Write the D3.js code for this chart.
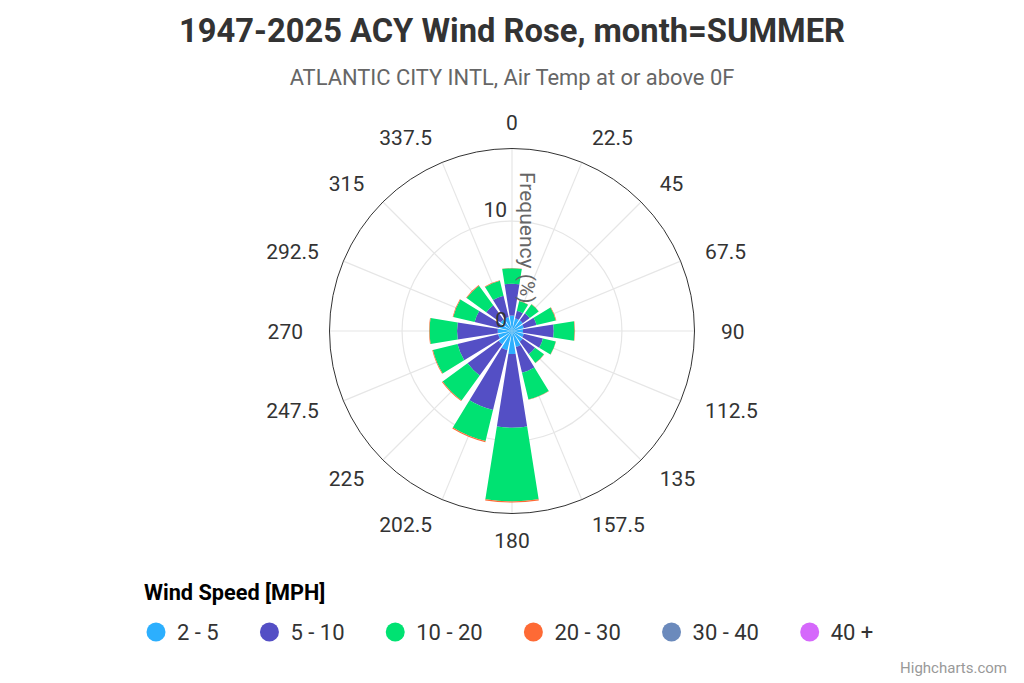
<!DOCTYPE html>
<html>
<head>
<meta charset="utf-8">
<script src="https://cdn.jsdelivr.net/npm/d3@7"></script>
<style>
body { margin: 0; background: #fff; }
svg text { font-family: Roboto, "Noto Sans", sans-serif; }
</style>
</head>
<body>
<div id="chart"></div>
<script>
// wind directions (degrees) and speed bins
var directions = ["0", "22.5", "45", "67.5", "90", "112.5", "135", "157.5",
                  "180", "202.5", "225", "247.5", "270", "292.5", "315", "337.5"];
var speedBins = ["2 - 5", "5 - 10", "10 - 20", "20 - 30", "30 - 40", "40 +"];

// frequency (%) per direction, one array per speed bin
var freq2to5   = [1.4, 1.2, 1.2, 1.1, 1.0, 1.1, 1.2, 1.5, 2.1, 1.8, 1.5, 1.3, 1.3, 1.2, 1.3, 1.3];
var freq5to10  = [2.9, 0.7, 0.8, 1.2, 2.8, 1.8, 1.4, 2.4, 6.7, 5.6, 3.5, 3.8, 3.7, 2.3, 1.6, 2.0];
var freq10to20 = [1.4, 0.9, 1.0, 1.8, 1.9, 1.2, 1.0, 2.5, 6.7, 2.9, 2.8, 2.3, 2.5, 2.0, 2.2, 1.4];
var freq20to30 = [0.03, 0.02, 0.03, 0.05, 0.04, 0.02, 0.02, 0.03, 0.1, 0.1, 0.08, 0.06, 0.05, 0.05, 0.06, 0.04];
var freq30to40 = [0, 0, 0, 0, 0, 0, 0, 0, 0, 0, 0, 0, 0, 0, 0, 0];
var freq40up   = [0, 0, 0, 0, 0, 0, 0, 0, 0, 0, 0, 0, 0, 0, 0, 0];

var radialTicks = [0, 10];
var radialMax = 16.6;

var colors = ["#2caffe", "#544fc5", "#00e272", "#fe6a35", "#6b8abc", "#d568fb"];

var width = 1024, height = 683;
var cx = 512, cy = 331, outerR = 182.5;

var svg = d3.select("#chart").append("svg")
    .attr("width", width)
    .attr("height", height);

// titles
svg.append("text")
    .attr("x", width / 2).attr("y", 42)
    .attr("text-anchor", "middle")
    .style("font-size", "32.7px").style("font-weight", "bold")
    .attr("fill", "#333333")
    .text("1947-2025 ACY Wind Rose, month=SUMMER");
svg.append("text")
    .attr("x", width / 2).attr("y", 85)
    .attr("text-anchor", "middle")
    .style("font-size", "21.9px")
    .attr("fill", "#666666")
    .text("ATLANTIC CITY INTL, Air Temp at or above 0F");

// build table for stacking
var seriesList = [freq2to5, freq5to10, freq10to20, freq20to30, freq30to40, freq40up];
var rows = directions.map(function (d, i) {
    var row = { dir: d };
    speedBins.forEach(function (b, j) { row[b] = seriesList[j][i]; });
    return row;
});
var stacked = d3.stack().keys(speedBins)(rows);

var step = 2 * Math.PI / directions.length;
var angle = d3.scaleBand()
    .domain(directions)
    .range([-step / 2, 2 * Math.PI - step / 2])
    .paddingInner(0.2)
    .paddingOuter(0.1);
var radius = d3.scaleLinear().domain([0, radialMax]).range([0, outerR]);

var plot = svg.append("g").attr("transform", "translate(" + cx + "," + cy + ")");

function midAngle(d) { return angle(d) + angle.bandwidth() / 2; }

// spokes
plot.selectAll("line.spoke")
    .data(directions)
    .enter().append("line")
    .attr("class", "spoke")
    .attr("x1", 0).attr("y1", 0)
    .attr("x2", function (d) { return outerR * Math.sin(midAngle(d)); })
    .attr("y2", function (d) { return -outerR * Math.cos(midAngle(d)); })
    .attr("stroke", "#e6e6e6").attr("stroke-width", 1.2);

// radial grid circles
plot.selectAll("circle.grid")
    .data(radialTicks.filter(function (t) { return t > 0; }))
    .enter().append("circle")
    .attr("class", "grid")
    .attr("r", function (d) { return radius(d); })
    .attr("fill", "none")
    .attr("stroke", "#e6e6e6").attr("stroke-width", 1.2);

// outer ring
plot.append("circle")
    .attr("r", outerR)
    .attr("fill", "none")
    .attr("stroke", "#333333").attr("stroke-width", 1);

// bars
var arc = d3.arc()
    .innerRadius(function (d) { return radius(d[0]); })
    .outerRadius(function (d) { return radius(d[1]); })
    .startAngle(function (d) { return angle(d.data.dir); })
    .endAngle(function (d) { return angle(d.data.dir) + angle.bandwidth(); });

plot.selectAll("g.series")
    .data(stacked)
    .enter().append("g")
    .attr("class", "series")
    .attr("fill", function (d, i) { return colors[i]; })
    .selectAll("path")
    .data(function (d) { return d.filter(function (p) { return p[1] > p[0]; }); })
    .enter().append("path")
    .attr("d", arc);

// direction labels
var labelR = 209;
plot.selectAll("text.dir")
    .data(directions)
    .enter().append("text")
    .attr("class", "dir")
    .attr("x", function (d) { return labelR * Math.sin(midAngle(d)); })
    .attr("y", function (d) { return -labelR * Math.cos(midAngle(d)) + 7.5; })
    .attr("text-anchor", function (d) {
        var s = Math.sin(midAngle(d));
        if (Math.abs(s) < 0.1) return "middle";
        return s > 0 ? "start" : "end";
    })
    .style("font-size", "21px")
    .attr("fill", "#333333")
    .text(function (d) { return d; });

// radial axis labels
plot.selectAll("text.rtick")
    .data(radialTicks)
    .enter().append("text")
    .attr("class", "rtick")
    .attr("x", -5)
    .attr("y", function (d) { return -radius(d) - 4; })
    .attr("text-anchor", "end")
    .style("font-size", "21px")
    .attr("fill", "#333333")
    .text(function (d) { return d; });

// radial axis title
plot.append("text")
    .attr("transform", "translate(8," + (-outerR / 2 - 2) + ") rotate(90)")
    .attr("text-anchor", "middle")
    .style("font-size", "21px")
    .attr("fill", "#666666")
    .text("Frequency (%)");

// legend
svg.append("text")
    .attr("x", 144).attr("y", 600)
    .style("font-size", "21.7px").style("font-weight", "bold")
    .attr("fill", "#000000")
    .text("Wind Speed [MPH]");

var legend = svg.append("g");
var lx = 146.5;
speedBins.forEach(function (b, i) {
    var item = legend.append("g");
    item.append("circle")
        .attr("cx", lx + 9.5).attr("cy", 632)
        .attr("r", 9.5)
        .attr("fill", colors[i]);
    var t = item.append("text")
        .attr("x", lx + 30.5).attr("y", 640)
        .style("font-size", "22px")
        .attr("fill", "#333333")
        .text(b);
    lx = lx + 30.5 + t.node().getComputedTextLength() + 41.2;
});

// credits
svg.append("text")
    .attr("x", 1007).attr("y", 673)
    .attr("text-anchor", "end")
    .style("font-size", "15px")
    .attr("fill", "#999999")
    .text("Highcharts.com");
</script>
</body>
</html>
